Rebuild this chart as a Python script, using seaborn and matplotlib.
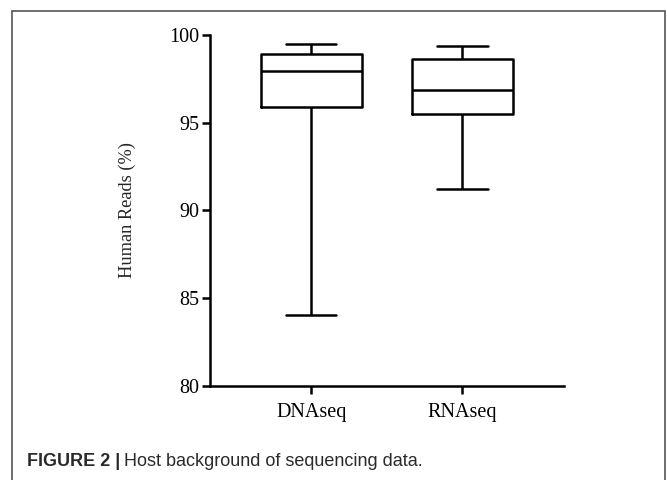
import matplotlib
matplotlib.use("Agg")
import matplotlib.pyplot as plt
from matplotlib.patches import Rectangle
import seaborn as sns
import pandas as pd

# summary values: min, Q1, median, Q3, max
groups = ["DNAseq", "RNAseq"]
dna_values = [84.05, 95.9, 97.95, 98.9, 99.5]
rna_values = [91.2, 95.5, 96.85, 98.65, 99.4]
y_ticks = [80, 85, 90, 95, 100]

df = pd.DataFrame({
    "group": [groups[0]] * len(dna_values) + [groups[1]] * len(rna_values),
    "reads": dna_values + rna_values,
})

sns.set_style("ticks")
plt.rcParams["font.family"] = ["Liberation Serif", "DejaVu Serif"]

fig = plt.figure(figsize=(6.67, 4.8), dpi=100)
ax = fig.add_axes([0.315, 0.196, 0.531, 0.731])

sns.boxplot(data=df, x="group", y="reads", order=groups, whis=(0, 100),
            width=0.67, fill=False, color="black", linewidth=1.8, ax=ax)

ax.set_ylim(80, 100)
ax.set_yticks(y_ticks)
ax.set_xlim(-0.669, 1.675)
sns.despine(ax=ax)
for s in ["left", "bottom"]:
    ax.spines[s].set_linewidth(1.8)
    ax.spines[s].set_color("black")
ax.tick_params(axis="both", width=1.8, length=6, colors="black", labelsize=14.5)
ax.tick_params(axis="y", pad=1.5)
ax.tick_params(axis="x", pad=6)
ax.set_xlabel("")
ax.set_ylabel("Human Reads (%)", fontsize=13.2, labelpad=24)

# outer frame and caption
fig.patches.append(Rectangle((12 / 667, -0.05), (665 - 12) / 667, 1.05 - 11 / 480,
                             transform=fig.transFigure, fill=False,
                             edgecolor="#555555", linewidth=1.2))
cap_y = 1 - 462 / 480
t1 = fig.text(27 / 667, cap_y, "FIGURE 2 |", fontsize=13, fontweight="bold",
              family=["Liberation Sans", "DejaVu Sans"], color="#2a2a2a", va="center")
fig.canvas.draw()
bb = t1.get_window_extent()
fig.text((bb.x1 + 4) / fig.bbox.width, cap_y, "Host background of sequencing data.",
         fontsize=13, family=["Liberation Sans", "DejaVu Sans"], color="#2a2a2a", va="center")

fig.savefig("out.png", dpi=100)
